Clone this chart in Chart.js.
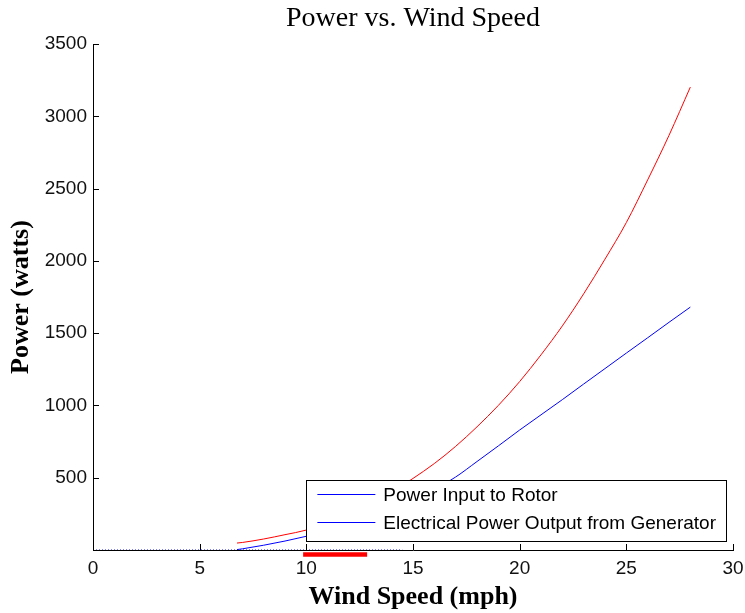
<!DOCTYPE html>
<html>
<head>
<meta charset="utf-8">
<title>Power vs. Wind Speed</title>
<script src="https://cdn.jsdelivr.net/npm/chart.js@4/dist/chart.umd.min.js"></script>
<style>
  html, body { margin: 0; padding: 0; background: #fff; }
  canvas { display: block; }
</style>
</head>
<body>
<canvas id="myChart" width="745" height="613"></canvas>
<script>
// wind speed (mph) and power (watts)
const windSpeed = [6.75, 7, 8, 9, 10, 11, 12, 13, 14, 15, 16, 17, 18, 19, 20, 21, 22, 23, 24, 25, 26, 27, 28];
const rotorPower = [48, 52, 76, 106, 138, 190, 250, 318, 400, 495, 598, 717, 852, 1000, 1165, 1350, 1550, 1772, 2012, 2265, 2560, 2868, 3202];
const generatorPower = [3, 8, 33, 62, 95, 130, 170, 220, 280, 345, 420, 505, 612, 720, 830, 935, 1040, 1148, 1255, 1362, 1468, 1575, 1680];
// flat line along the axis (first legend entry)
const zeroWind = [0, 14.5];
const zeroPower = [0, 0];
// red mark just under the axis in the original figure
const markWind = [9.85, 12.85];
const markLevel = [-31, -31];

const legendLabels = ['Power Input to Rotor', 'Electrical Power Output from Generator'];
const xTicks = [0, 5, 10, 15, 20, 25, 30];
const yTicks = [0, 500, 1000, 1500, 2000, 2500, 3000, 3500];

function pts(xs, ys) {
    return xs.map((x, i) => ({ x: x, y: ys[i] }));
}

// inward tick marks like the original axes
const innerTicks = {
    id: 'innerTicks',
    afterDatasetsDraw(chart) {
        const { ctx, chartArea, scales } = chart;
        ctx.save();
        ctx.strokeStyle = '#000';
        ctx.lineWidth = 1;
        ctx.beginPath();
        xTicks.forEach(v => {
            const px = Math.round(scales.x.getPixelForValue(v)) + 0.5;
            ctx.moveTo(px, chartArea.bottom);
            ctx.lineTo(px, chartArea.bottom - 6);
        });
        yTicks.forEach(v => {
            const py = Math.round(scales.y.getPixelForValue(v)) + 0.5;
            ctx.moveTo(chartArea.left, py);
            ctx.lineTo(chartArea.left + 6, py);
        });
        ctx.stroke();
        ctx.restore();
    }
};

// boxed legend sitting inside the axes, bottom right
const boxLegend = {
    id: 'boxLegend',
    afterDraw(chart) {
        const { ctx, chartArea } = chart;
        const ds = chart.data.datasets;
        ctx.save();
        ctx.font = '19px "Liberation Sans", Arial, sans-serif';
        let w = 0;
        legendLabels.forEach(t => { w = Math.max(w, ctx.measureText(t).width); });
        const boxW = w + 87;
        const boxH = 61;
        const right = chartArea.right - 7;
        const bottom = chartArea.bottom - 9;
        const left = right - boxW;
        const top = bottom - boxH;
        ctx.fillStyle = '#fff';
        ctx.fillRect(left, top, boxW, boxH);
        ctx.strokeStyle = '#000';
        ctx.lineWidth = 1;
        ctx.strokeRect(Math.round(left) + 0.5, Math.round(top) + 0.5, Math.round(boxW), Math.round(boxH));
        legendLabels.forEach((t, i) => {
            const y = Math.round(top + 14 + i * 28) + 0.5;
            ctx.strokeStyle = ds[i].borderColor;
            ctx.beginPath();
            ctx.moveTo(left + 11, y);
            ctx.lineTo(left + 69, y);
            ctx.stroke();
            ctx.fillStyle = '#000';
            ctx.textBaseline = 'middle';
            ctx.fillText(t, left + 77, y + 1);
        });
        ctx.restore();
    }
};

document.addEventListener('DOMContentLoaded', function() {
    const ctx = document.getElementById('myChart').getContext('2d');
    new Chart(ctx, {
        type: 'line',
        data: {
            datasets: [{
                label: legendLabels[0],
                data: pts(zeroWind, zeroPower),
                borderColor: '#0000ff',
                borderWidth: 1,
                borderDash: [1, 2],
                pointRadius: 0
            }, {
                label: legendLabels[1],
                data: pts(windSpeed, generatorPower),
                borderColor: '#0000ff',
                borderWidth: 1,
                pointRadius: 0,
                cubicInterpolationMode: 'monotone'
            }, {
                label: 'rotor',
                data: pts(windSpeed, rotorPower),
                borderColor: '#ff0000',
                borderWidth: 1,
                pointRadius: 0,
                cubicInterpolationMode: 'monotone'
            }, {
                label: 'mark',
                data: pts(markWind, markLevel),
                borderColor: '#ff0000',
                borderWidth: 4.5,
                pointRadius: 0,
                clip: false
            }]
        },
        options: {
            responsive: false,
            animation: false,
            layout: { padding: 0 },
            plugins: {
                legend: { display: false },
                tooltip: { enabled: false },
                title: {
                    display: true,
                    fullSize: false, // centre over the plot, not the canvas
                    text: 'Power vs. Wind Speed',
                    color: '#000',
                    font: { family: '"Liberation Serif", "Times New Roman", serif', size: 28, weight: 'normal' },
                    padding: { top: 2, bottom: 8.4 }
                }
            },
            scales: {
                x: {
                    type: 'linear',
                    min: 0,
                    max: 30,
                    afterBuildTicks: s => { s.ticks = xTicks.map(v => ({ value: v })); },
                    afterFit: s => { s.height = 63; s.paddingRight = 12; },
                    border: { display: true, color: '#000', width: 1 },
                    grid: { display: false, drawTicks: false },
                    ticks: {
                        color: '#111',
                        padding: 7,
                        maxRotation: 0,
                        font: { family: '"Liberation Sans", Arial, sans-serif', size: 19 }
                    },
                    title: {
                        display: true,
                        text: 'Wind Speed (mph)',
                        color: '#000',
                        font: { family: '"Liberation Serif", "Times New Roman", serif', size: 26, weight: 'bold' },
                        padding: { top: 0, bottom: 0 }
                    }
                },
                y: {
                    min: 0,
                    max: 3500,
                    afterBuildTicks: s => { s.ticks = yTicks.map(v => ({ value: v })); },
                    afterFit: s => { s.width = 93; },
                    border: { display: true, color: '#000', width: 1 },
                    grid: { display: false, drawTicks: false },
                    ticks: {
                        color: '#111',
                        padding: 6,
                        font: { family: '"Liberation Sans", Arial, sans-serif', size: 19 },
                        callback: v => v === 0 ? '' : v
                    },
                    title: {
                        display: true,
                        text: 'Power (watts)',
                        color: '#000',
                        font: { family: '"Liberation Serif", "Times New Roman", serif', size: 26, weight: 'bold' },
                        padding: { top: 6, bottom: 0 }
                    }
                }
            }
        },
        plugins: [innerTicks, boxLegend]
    });
});
</script>
</body>
</html>
